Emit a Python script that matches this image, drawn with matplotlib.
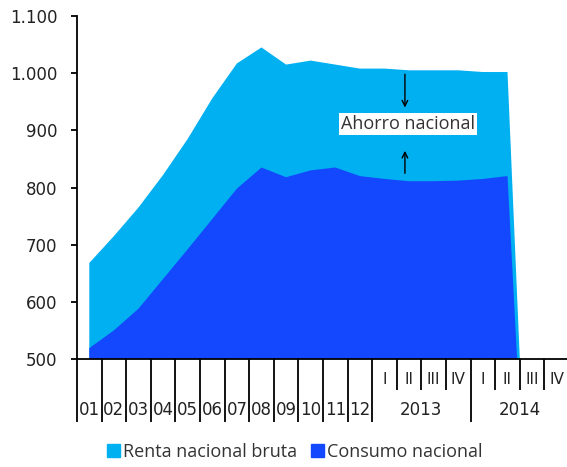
import numpy as np
import matplotlib.pyplot as plt
from matplotlib.patches import Patch
import matplotlib.transforms as mtransforms

# Data (miles de millones, approx.)
years = ["01", "02", "03", "04", "05", "06", "07", "08", "09", "10", "11", "12"]
quarters = ["I", "II", "III", "IV", "I", "II", "III", "IV"]
quarter_years = ["2013", "2014"]
renta = [668, 715, 765, 822, 885, 956, 1017, 1045, 1015, 1022, 1015, 1008,
         1008, 1005, 1005, 1005, 1002, 1002, 0, 0]
consumo = [519, 550, 588, 640, 692, 745, 798, 835, 818, 830, 835, 820,
           815, 811, 811, 812, 815, 820, 0, 0]

c_renta = "#00B0F0"
c_consumo = "#1448FF"

x = np.arange(len(renta))

fig = plt.figure(figsize=(5.67, 4.67), dpi=100)
ax = fig.add_axes([77 / 567, 1 - 359 / 467, 492 / 567, 343 / 467])

ax.fill_between(x, 0, renta, color=c_renta, lw=0)
ax.fill_between(x, 0, consumo, color=c_consumo, lw=0)

ax.set_xlim(-0.5, len(x) - 0.5)
ax.set_ylim(500, 1100)
ax.set_yticks(np.arange(500, 1101, 100))
ax.set_yticklabels(["500", "600", "700", "800", "900", "1.000", "1.100"])

for s in ["top", "right"]:
    ax.spines[s].set_visible(False)
ax.spines["left"].set_linewidth(1.3)
ax.spines["bottom"].set_linewidth(1.3)

ax.tick_params(axis="y", direction="out", length=4, width=1.3, pad=10,
               labelsize=12, labelcolor="#222222")

# long separators (years), short separators (quarters)
long_ticks = [i - 0.5 for i in range(13)] + [15.5]
short_ticks = [12.5, 13.5, 14.5, 16.5, 17.5, 18.5]
ax.set_xticks(long_ticks)
ax.set_xticks(short_ticks, minor=True)
ax.tick_params(axis="x", which="major", direction="out", length=45, width=1.3,
               labelbottom=False)
ax.tick_params(axis="x", which="minor", direction="out", length=22, width=1.3,
               labelbottom=False)

trans = mtransforms.blended_transform_factory(ax.transData, ax.transAxes)
for i, lab in enumerate(years):
    ax.text(i, -0.149, lab, transform=trans, ha="center", va="center",
            fontsize=12, color="#222222")
for i, lab in enumerate(quarters):
    ax.text(12 + i, -0.061, lab, transform=trans, ha="center", va="center",
            fontsize=11, color="#222222")
for i, lab in enumerate(quarter_years):
    ax.text(13.5 + 4 * i, -0.149, lab, transform=trans, ha="center",
            va="center", fontsize=12, color="#222222")

# annotation
ax.text(12.96, 911, "Ahorro nacional", ha="center", va="center", fontsize=13,
        family="Open Sans", color="#333333",
        bbox=dict(facecolor="white", edgecolor="none", pad=1.5))
ax.annotate("", xy=(12.83, 935), xytext=(12.83, 1003),
            arrowprops=dict(arrowstyle="->", lw=1, color="black"))
ax.annotate("", xy=(12.83, 869), xytext=(12.83, 820),
            arrowprops=dict(arrowstyle="->", lw=1, color="black"))

handles = [Patch(color=c_renta, label="Renta nacional bruta"),
           Patch(color=c_consumo, label="Consumo nacional")]
fig.legend(handles=handles, loc="center", bbox_to_anchor=(0.52, 1 - 452 / 467),
           ncol=2, frameon=False, prop={"family": "Open Sans", "size": 13},
           handlelength=0.7, handleheight=0.7, handletextpad=0.15,
           columnspacing=0.8, labelcolor="#333333")

fig.savefig("out.png", dpi=100)
